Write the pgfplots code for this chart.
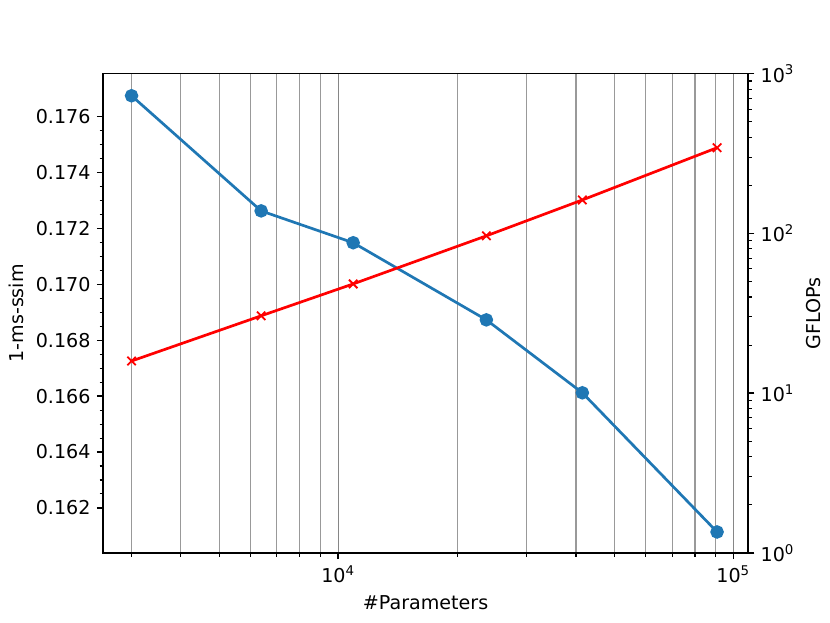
\documentclass[border=0pt]{standalone}
\usepackage{fontspec}
\setmainfont{DejaVu Sans}
\usepackage{pgfplots}
\pgfplotsset{compat=1.18}
\definecolor{mplblue}{HTML}{1F77B4}
\begin{document}
\begin{tikzpicture}
\pgfplotsset{
  every axis/.append style={
    width=358pt, height=266pt, scale only axis,
    font=\fontsize{10.6}{12.7}\selectfont,
    axis line style={line width=0.8pt},
    tick align=outside,
    major tick length=3.5pt, minor tick length=2pt,
    every tick/.style={black, line width=0.8pt},
    every minor tick/.style={black, line width=0.6pt},
    /pgf/number format/assume math mode=true,
    xmode=log, xmin=2541, xmax=109000,
  }
}
\begin{axis}[
  ymin=0.16039, ymax=0.17754,
  ytick={0.162,0.164,0.166,0.168,0.170,0.172,0.174,0.176},
  minor y tick num=3,
  yticklabel style={/pgf/number format/.cd, fixed, fixed zerofill, precision=3},
  scaled y ticks=false,
  xtick={10000,100000},
  xticklabels={10\textsuperscript{4},10\textsuperscript{5}},
  minor xtick={3000,4000,5000,6000,7000,8000,9000,20000,30000,40000,50000,60000,70000,80000,90000},
  xtick pos=bottom, ytick pos=left,
  xmajorgrids, xminorgrids,
  major grid style={gray!95, line width=0.6pt},
  minor grid style={gray!80, line width=0.6pt},
  xlabel={\#Parameters}, ylabel={1-ms-ssim},
]
\addplot[mplblue, line width=1.5pt, mark=*, mark size=3pt, mark options={draw=none, fill=mplblue}] coordinates {
  (3000,0.17675) (6384,0.17263) (10915,0.17149) (23720,0.16873) (41500,0.16612) (91000,0.16114)
};
\end{axis}
\begin{axis}[
  axis y line*=right, axis x line=none,
  ymode=log, ymin=1, ymax=1000,
  ytick={1,10,100,1000},
  yticklabels={10\textsuperscript{0},10\textsuperscript{1},10\textsuperscript{2},10\textsuperscript{3}},
  ylabel={GFLOPs},
]
\addplot[red, line width=1.5pt, mark=x, mark size=3.3pt, mark options={line width=1pt}] coordinates {
  (3000,15.9) (6384,30.5) (10915,48.3) (23720,96.6) (41500,162) (91000,344)
};
\end{axis}
\path (-57.2pt,-38.9pt) rectangle (403.5pt,306.9pt);
\end{tikzpicture}
\end{document}
